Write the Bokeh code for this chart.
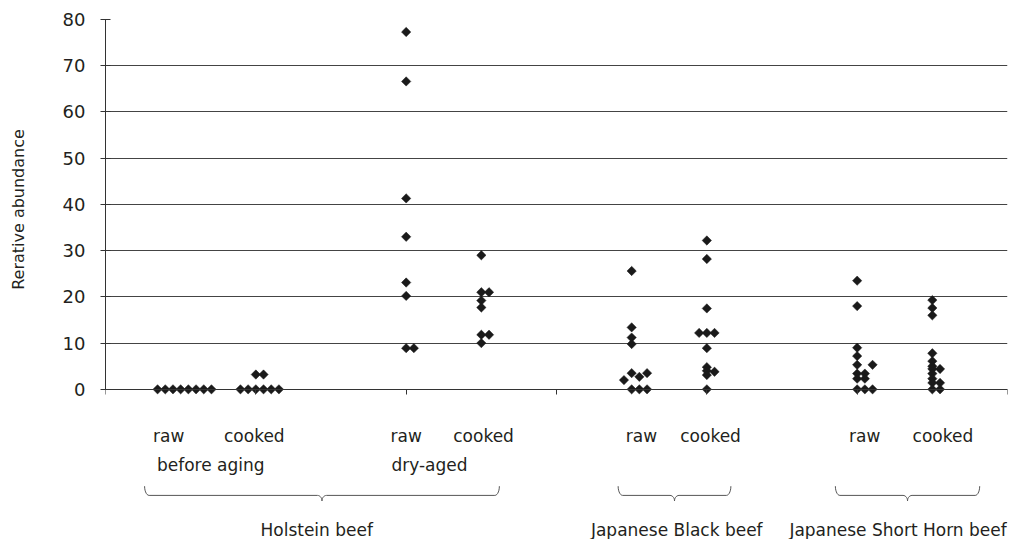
import numpy as np
from bokeh.plotting import figure
from bokeh.layouts import column
from bokeh.models import Range1d, FixedTicker
from bokeh.core.properties import value
from bokeh.embed import file_html
from bokeh.resources import INLINE

# ---------------- data ----------------
columns = ["before raw", "before cooked", "dry raw", "dry cooked",
           "JB raw", "JB cooked", "SH raw", "SH cooked"]
col_pos = [0.5, 1.0, 2.0, 2.5, 3.5, 4.0, 5.0, 5.5]

before_raw = [0, 0, 0, 0, 0, 0, 0, 0]
before_raw_slot = [-3, -2, -1, 0, 1, 2, 3, 4]
before_cooked = [0, 0, 0, 0, 0, 0, 3.2, 3.2]
before_cooked_slot = [-2, -1, 0, 1, 2, 3, 0, 1]
dry_raw = [77.3, 66.6, 41.3, 33.0, 23.1, 20.2, 8.9, 8.9]
dry_raw_slot = [0, 0, 0, 0, 0, 0, 0, 1]
dry_cooked = [29.0, 21.0, 21.0, 19.2, 17.7, 11.8, 11.8, 10.0]
dry_cooked_slot = [0, 0, 1, 0, 0, 0, 1, 0]
jb_raw = [25.6, 13.4, 11.2, 9.8, 3.5, 3.5, 2.7, 2.0, 0, 0, 0]
jb_raw_slot = [0, 0, 0, 0, 0, 2, 1, -1, 0, 1, 2]
jb_cooked = [32.2, 28.2, 17.5, 12.2, 12.2, 12.2, 8.9, 4.8, 4.0, 3.8, 3.1, 0]
jb_cooked_slot = [0, 0, 0, -1, 0, 1, 0, 0, 0, 1, 0, 0]
sh_raw = [23.5, 18.0, 9.0, 7.2, 5.3, 5.3, 3.4, 3.4, 2.3, 2.3, 0, 0, 0]
sh_raw_slot = [0, 0, 0, 0, 0, 2, 0, 1, 0, 1, 0, 1, 2]
sh_cooked = [19.3, 17.6, 16.0, 7.8, 6.1, 5.0, 4.4, 4.4, 3.4, 2.3, 1.4, 1.4, 0, 0]
sh_cooked_slot = [0, 0, 0, 0, 0, 0, 0, 1, 0, 0, 0, 1, 0, 1]

series_values = [before_raw, before_cooked, dry_raw, dry_cooked,
                 jb_raw, jb_cooked, sh_raw, sh_cooked]
series_slots = [before_raw_slot, before_cooked_slot, dry_raw_slot, dry_cooked_slot,
                jb_raw_slot, jb_cooked_slot, sh_raw_slot, sh_cooked_slot]

sub_labels = ["raw", "cooked", "raw", "cooked", "raw", "cooked", "raw", "cooked"]
sub_label_x = [0.42, 0.99, 2.0, 2.515, 3.565, 4.025, 5.05, 5.57]
stage_labels = ["before aging", "dry-aged"]
stage_label_x = [0.70, 2.155]
group_labels = ["Holstein beef", "Japanese Black beef", "Japanese Short Horn beef"]
group_label_x = [1.405, 3.80, 5.272]
group_spans = [(0.26, 2.62), (3.41, 4.16), (4.855, 5.815)]

y_ticks = [0, 10, 20, 30, 40, 50, 60, 70, 80]
x_ticks = [0, 1, 2, 3, 4, 5, 6]
y_title = "Rerative abundance"

# ---------------- main plot ----------------
FONT = "DejaVu Sans"
TXT = "#231f20"
slot_w = 0.0512
W = 1010
H_TOP = 405
H_BOT = 539 - H_TOP

p = figure(width=W, height=H_TOP, output_backend="svg", toolbar_location=None,
           x_range=Range1d(0, 6), y_range=Range1d(-2.2, 80),
           min_border_left=105, min_border_right=3, min_border_top=19,
           min_border_bottom=6)
p.outline_line_color = None
p.background_fill_color = "white"
p.border_fill_color = "white"
p.xgrid.visible = False

xa = p.xaxis[0]
xa.fixed_location = 0
xa.ticker = FixedTicker(ticks=x_ticks)
xa.minor_tick_line_color = None
xa.major_tick_in = 0
xa.major_tick_out = 5
xa.axis_line_color = "#333333"
xa.major_tick_line_color = "#333333"
xa.major_label_text_font_size = "1px"
xa.major_label_text_color = None
xa.major_label_standoff = 0

ax = p.yaxis[0]
ax.bounds = (0, 80)
ax.ticker = FixedTicker(ticks=y_ticks)
ax.minor_tick_line_color = None
ax.major_tick_in = 5
ax.major_tick_out = 5
ax.axis_line_color = "#333333"
ax.major_tick_line_color = "#333333"
ax.major_label_text_font = FONT
ax.major_label_text_font_size = "18px"
ax.major_label_text_color = TXT
ax.major_label_standoff = 15
ax.axis_label = y_title
ax.axis_label_text_font = FONT
ax.axis_label_text_font_size = "16px"
ax.axis_label_text_font_style = "normal"
ax.axis_label_text_color = TXT
ax.axis_label_standoff = 32

g = p.ygrid[0]
g.ticker = FixedTicker(ticks=y_ticks)
g.grid_line_color = "#444444"
g.grid_line_width = 1.2

xs, ys = [], []
for cx, vals, sl in zip(col_pos, series_values, series_slots):
    for v, s in zip(vals, sl):
        xs.append(cx + s * slot_w)
        ys.append(v)
p.scatter(x=xs, y=ys, marker="square", angle=np.pi / 4, size=6.6,
          fill_color="#1a1a1a", line_color="#1a1a1a", line_width=0.5)

# ---------------- category-label strip (y measured in px from page top) ----------------
q = figure(width=W, height=H_BOT, output_backend="svg", toolbar_location=None,
           x_range=p.x_range, y_range=Range1d(539, H_TOP),
           x_axis_location=None, y_axis_location=None,
           min_border_left=105, min_border_right=3, min_border_top=0,
           min_border_bottom=0)
q.outline_line_color = None
q.xgrid.visible = False
q.ygrid.visible = False
q.background_fill_color = "white"
q.border_fill_color = "white"

q.text(x=sub_label_x, y=[435] * len(sub_labels), text=sub_labels,
       text_font=value(FONT), text_font_size="17px", text_color=TXT,
       text_align="center", text_baseline="alphabetic")
q.text(x=stage_label_x, y=[464] * len(stage_labels), text=stage_labels,
       text_font=value(FONT), text_font_size="17px", text_color=TXT,
       text_align="center", text_baseline="alphabetic")
q.text(x=group_label_x, y=[529] * len(group_labels), text=group_labels,
       text_font=value(FONT), text_font_size="17px", text_color=TXT,
       text_align="center", text_baseline="alphabetic")

# braces
y_top, y_mid, y_tip = 485.7, 494.9, 500.4
r = 0.03
t = np.linspace(0, np.pi / 2, 8)
bx, by = [], []
for a, b in group_spans:
    m = (a + b) / 2
    left_end_x = list(a + r * (1 - np.cos(t)))
    left_end_y = list(y_top + (y_mid - y_top) * np.sin(t))
    mid_l_x = list(m - r + r * np.sin(t))
    mid_l_y = list(y_mid + (y_tip - y_mid) * (1 - np.cos(t)))
    mid_r_x = list(m + r - r * np.sin(t[::-1]))
    mid_r_y = list(y_mid + (y_tip - y_mid) * (1 - np.cos(t[::-1])))
    right_end_x = list(b - r * (1 - np.cos(t[::-1])))
    right_end_y = list(y_top + (y_mid - y_top) * np.sin(t[::-1]))
    bx.append(left_end_x + mid_l_x + mid_r_x + right_end_x)
    by.append(left_end_y + mid_l_y + mid_r_y + right_end_y)
q.multi_line(xs=bx, ys=by, line_color="#555555", line_width=1)

layout = column(p, q, spacing=0)
open("out.html", "w").write(file_html(layout, INLINE))
